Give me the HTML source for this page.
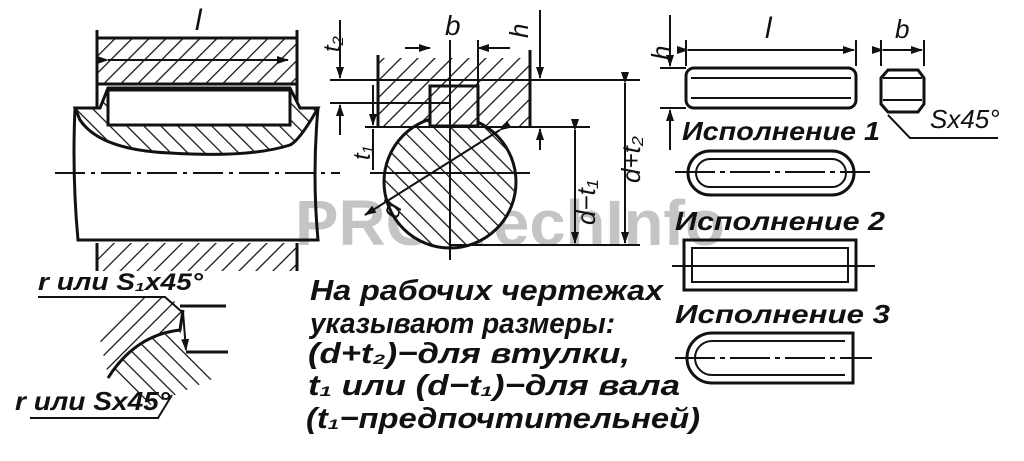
<!DOCTYPE html>
<html><head><meta charset="utf-8"><style>
html,body{margin:0;padding:0;background:#fff;}
svg{display:block}
text{font-family:"Liberation Sans",sans-serif;font-style:italic;fill:#111}
</style></head><body>
<svg width="1024" height="461" viewBox="0 0 1024 461" xmlns="http://www.w3.org/2000/svg">
<defs>
<pattern id="h" width="12" height="12" patternUnits="userSpaceOnUse" patternTransform="rotate(45)">
<rect width="12" height="12" fill="#fff"/><line x1="0" y1="0" x2="0" y2="12" stroke="#111" stroke-width="2.5"/></pattern>
<pattern id="h2" width="12" height="12" patternUnits="userSpaceOnUse" patternTransform="rotate(-45)">
<rect width="12" height="12" fill="#fff"/><line x1="0" y1="0" x2="0" y2="12" stroke="#111" stroke-width="2.5"/></pattern>
<marker id="a" markerWidth="12" markerHeight="8" refX="11" refY="4" orient="auto" markerUnits="userSpaceOnUse"><path d="M0,0 L12,4 L0,8 z" fill="#111"/></marker>
</defs>
<text x="295" y="245" font-size="64" font-weight="bold" textLength="430" lengthAdjust="spacingAndGlyphs" style="font-style:normal;fill:#c4c4c4">PRO-TechInfo</text>
<g stroke="#111" stroke-width="3" fill="none">
<!-- left hub -->
<rect x="97" y="38" width="200" height="46" fill="url(#h)"/>
<line x1="97" y1="30" x2="97" y2="108"/><line x1="297" y1="30" x2="297" y2="108"/>
<line x1="108" y1="60" x2="288" y2="60" stroke-width="2" marker-end="url(#a)" marker-start="url(#a)"/>
<!-- shaft -->
<path d="M75,108 Q72,175 78,240 L318,240 Q312,175 318,108 L290,108" />
<path d="M75,108 L100,108 L108,88 L290,88 L300,108 L318,108 Q300,140 290,145 Q250,158 170,153 Q100,150 80,120 Z" fill="url(#h2)"/>
<rect x="108" y="90" width="182" height="35" fill="#fff"/>
<line x1="55" y1="173" x2="340" y2="173" stroke-width="2" stroke-dasharray="30,6,4,6"/>
<rect x="97" y="243" width="200" height="28" fill="url(#h)" stroke="none"/>
<line x1="97" y1="243" x2="97" y2="271"/><line x1="297" y1="243" x2="297" y2="271"/>
<!-- center section -->
<path d="M378,58 L530,58 L530,127 L378,127 Z" fill="url(#h)" stroke="none"/>
<line x1="378" y1="55" x2="378" y2="127"/><line x1="530" y1="50" x2="530" y2="127"/>
<circle cx="450" cy="182" r="66" fill="url(#h2)"/>
<rect x="430" y="86" width="48" height="40" fill="url(#h)"/>
<line x1="450" y1="40" x2="450" y2="260" stroke-width="2"/>
<line x1="478" y1="40" x2="478" y2="125" stroke-width="2"/>
<line x1="405" y1="48" x2="430" y2="48" stroke-width="2" marker-end="url(#a)"/>
<line x1="510" y1="48" x2="478" y2="48" stroke-width="2" marker-end="url(#a)"/>
<line x1="330" y1="80" x2="550" y2="80" stroke-width="2"/>
<line x1="330" y1="103" x2="450" y2="103" stroke-width="2"/>
<line x1="365" y1="127" x2="590" y2="127" stroke-width="2"/>
<line x1="370" y1="173" x2="530" y2="173" stroke-width="2"/>
<line x1="450" y1="245" x2="640" y2="245" stroke-width="2"/>
<line x1="540" y1="80" x2="640" y2="80" stroke-width="2"/>
<line x1="340" y1="20" x2="340" y2="78" stroke-width="2" marker-end="url(#a)"/>
<line x1="340" y1="135" x2="340" y2="105" stroke-width="2" marker-end="url(#a)"/>
<line x1="373" y1="85" x2="373" y2="125" stroke-width="2" marker-end="url(#a)"/>
<line x1="373" y1="170" x2="373" y2="129" stroke-width="2"/>
<line x1="540" y1="10" x2="540" y2="78" stroke-width="2" marker-end="url(#a)"/>
<line x1="540" y1="150" x2="540" y2="129" stroke-width="2" marker-end="url(#a)"/>
<line x1="575" y1="130" x2="575" y2="243" stroke-width="2" marker-start="url(#a)" marker-end="url(#a)"/>
<line x1="625" y1="83" x2="625" y2="243" stroke-width="2" marker-start="url(#a)" marker-end="url(#a)"/>
<line x1="500" y1="130" x2="365" y2="215" stroke-width="2" marker-start="url(#a)" marker-end="url(#a)"/>
<!-- right keys -->
<rect x="686" y="68" width="170" height="40" rx="8"/>
<line x1="691" y1="78" x2="851" y2="78" stroke-width="2"/><line x1="691" y1="98" x2="851" y2="98" stroke-width="2"/>
<line x1="686" y1="40" x2="686" y2="66" stroke-width="2"/><line x1="856" y1="40" x2="856" y2="66" stroke-width="2"/>
<line x1="688" y1="50" x2="854" y2="50" stroke-width="2" marker-start="url(#a)" marker-end="url(#a)"/>
<line x1="670" y1="15" x2="670" y2="66" stroke-width="2" marker-end="url(#a)"/>
<line x1="670" y1="150" x2="670" y2="110" stroke-width="2" marker-end="url(#a)"/>
<line x1="660" y1="68" x2="686" y2="68" stroke-width="2"/><line x1="660" y1="108" x2="686" y2="108" stroke-width="2"/>
<path d="M888,70 L918,70 L924,78 L924,104 L918,112 L888,112 L881,104 L881,78 Z"/>
<line x1="883" y1="78" x2="922" y2="78" stroke-width="2"/><line x1="883" y1="100" x2="922" y2="100" stroke-width="2"/>
<line x1="881" y1="40" x2="881" y2="66" stroke-width="2"/><line x1="924" y1="40" x2="924" y2="66" stroke-width="2"/>
<line x1="883" y1="50" x2="922" y2="50" stroke-width="2" marker-start="url(#a)" marker-end="url(#a)"/>
<path d="M888,115 L910,138 L998,138" stroke-width="2"/>
<rect x="688" y="151" width="166" height="44" rx="22"/>
<rect x="696" y="159" width="150" height="28" rx="14" stroke-width="2"/>
<line x1="675" y1="172" x2="870" y2="172" stroke-width="2" stroke-dasharray="40,5,5,5"/>
<rect x="684" y="240" width="172" height="50"/>
<rect x="692" y="248" width="156" height="34" stroke-width="2"/>
<line x1="672" y1="266" x2="875" y2="266" stroke-width="2"/>
<path d="M853,333 L712,333 A25,25 0 0 0 712,383 L853,383 Z"/>
<path d="M845,341 L712,341 A17,17 0 0 0 712,375 L845,375" stroke-width="2"/>
<line x1="675" y1="358" x2="872" y2="358" stroke-width="2" stroke-dasharray="40,5,5,5"/>
<!-- bottom-left detail -->
<path d="M100,340 L140,297 L170,297 L183,310 L180,330 Q140,332 108,375 Z" fill="url(#h)" stroke="none"/>
<path d="M108,378 Q135,335 180,330 L186,352 L215,378 L175,395 L150,405 Z" fill="url(#h2)" stroke="none"/>
<path d="M108,378 Q135,335 180,330 L183,310" stroke-width="3"/>
<line x1="180" y1="306" x2="226" y2="306" stroke-width="3"/>
<line x1="186" y1="352" x2="228" y2="352" stroke-width="3"/>
<line x1="183" y1="312" x2="186" y2="350" stroke-width="2" marker-end="url(#a)"/>
<path d="M38,297 L165,297 L182,312" stroke-width="2"/>
<path d="M30,418 L158,418 L172,395" stroke-width="2"/>
</g>
<!-- labels -->
<text x="195" y="30" font-size="30">l</text>
<text x="445" y="35" font-size="28">b</text>
<text x="510" y="40" font-size="26" transform="rotate(-90 518 30)">h</text>
<text x="318" y="50" font-size="24" transform="rotate(-90 330 40)">t₂</text>
<text x="350" y="160" font-size="24" transform="rotate(-90 360 150)">t₁</text>
<text x="380" y="215" font-size="26" transform="rotate(-70 392 205)">d</text>
<text x="545" y="245" font-size="26" transform="rotate(-90 560 210)">d−t₁</text>
<text x="597" y="200" font-size="26" transform="rotate(-90 610 170)">d+t₂</text>
<text x="765" y="38" font-size="30">l</text>
<text x="895" y="38" font-size="26">b</text>
<text x="640" y="70" font-size="26" transform="rotate(-90 650 50)">h</text>
<text x="930" y="128" font-size="26">Sx45°</text>
<g font-weight="bold" font-size="26">
<text x="682" y="140" textLength="198" lengthAdjust="spacingAndGlyphs">Исполнение 1</text>
<text x="675" y="230" textLength="210" lengthAdjust="spacingAndGlyphs">Исполнение 2</text>
<text x="675" y="323" textLength="215" lengthAdjust="spacingAndGlyphs">Исполнение 3</text>
<text x="38" y="290" font-size="24" textLength="165" lengthAdjust="spacingAndGlyphs">r или S₁x45°</text>
<text x="15" y="410" font-size="26" textLength="155" lengthAdjust="spacingAndGlyphs">r или Sx45°</text>
</g>
<g font-size="29" font-weight="bold">
<text x="310" y="300" textLength="353" lengthAdjust="spacingAndGlyphs">На рабочих чертежах</text>
<text x="310" y="333" textLength="305" lengthAdjust="spacingAndGlyphs">указывают размеры:</text>
<text x="308" y="363" textLength="322" lengthAdjust="spacingAndGlyphs">(d+t₂)−для втулки,</text>
<text x="308" y="395" textLength="372" lengthAdjust="spacingAndGlyphs">t₁ или (d−t₁)−для вала</text>
<text x="306" y="428" textLength="394" lengthAdjust="spacingAndGlyphs">(t₁−предпочтительней)</text>
</g>
</svg>
</body></html>
